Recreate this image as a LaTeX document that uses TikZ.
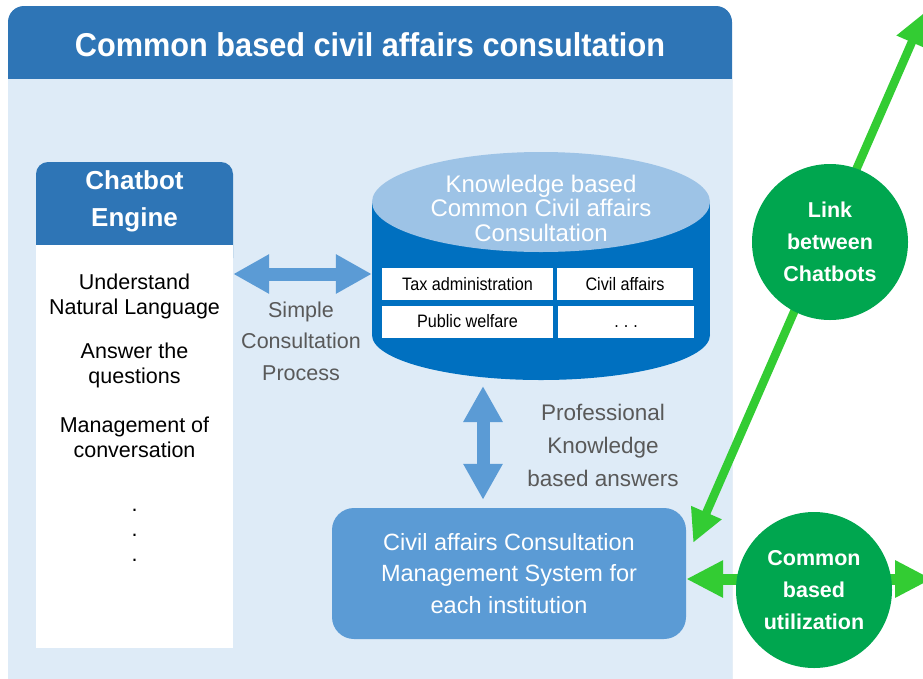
\documentclass[tikz,border=0pt]{standalone}
\usepackage{fontspec}
\setmainfont{Liberation Sans}
\newfontfamily\narrowfont[FakeStretch=0.9]{Liberation Sans}
\newfontfamily\titlefont[FakeStretch=0.93]{Liberation Sans}
\usetikzlibrary{arrows.meta,shapes.geometric}
\definecolor{hdrblue}{HTML}{2E75B6}
\definecolor{panelblue}{HTML}{DEEBF7}
\definecolor{kbbody}{HTML}{0070C0}
\definecolor{kbtop}{HTML}{9DC3E6}
\definecolor{arrowblue}{HTML}{5B9BD5}
\definecolor{hubgreen}{HTML}{00A64F}
\definecolor{linkgreen}{HTML}{33CC33}
\definecolor{labelgray}{HTML}{595959}
\begin{document}
\begin{tikzpicture}[x=1pt, y=-1pt,
	enginebox/.style={fill=white, minimum width=197pt, minimum height=403pt, inner sep=0pt},
	headtext/.style={text=white, align=center, inner sep=0pt,
		font=\bfseries\fontsize{26}{37}\selectfont},
	bodytext/.style={align=center, inner sep=0pt, font=\fontsize{21.5}{25}\selectfont},
	kbtext/.style={text=white, align=center, inner sep=0pt, font=\fontsize{24}{24.5}\selectfont},
	cell/.style={fill=white, minimum height=32pt, inner sep=0pt,
		font=\narrowfont\fontsize{18}{20}\selectfont},
	graytext/.style={text=labelgray, align=center, inner sep=0pt},
	cmsbox/.style={fill=arrowblue, rounded corners=22pt, text=white, align=center,
		minimum width=354pt, minimum height=131pt, inner sep=0pt,
		font=\fontsize{23.5}{31.5}\selectfont},
	hub/.style={circle, fill=hubgreen, text=white, align=center, minimum size=156pt,
		inner sep=0pt, font=\bfseries\fontsize{21.5}{32}\selectfont},
	bluearrow/.style={draw=arrowblue, line width=13pt,
		{Triangle[width=37pt,length=36pt]}-{Triangle[width=37pt,length=36pt]}},
	greenarrow/.style={draw=linkgreen, line width=8.5pt,
		{Triangle[width=31pt,length=33pt]}-{Triangle[width=31pt,length=33pt]}},
	greenwide/.style={draw=linkgreen, line width=11pt,
		{Triangle[width=35pt,length=37pt]}-{Triangle[width=35pt,length=37pt]}}
]
\useasboundingbox (0,0) rectangle (923,678);

% outer panel
\fill[hdrblue, rounded corners=16pt] (8,6) rectangle (732,700);
\fill[panelblue] (8,79) rectangle (732,700);
\node[text=white, inner sep=0pt, font=\titlefont\bfseries\fontsize{33}{36}\selectfont]
	(title) at (370,45) {Common based civil affairs consultation};

% chatbot engine
\fill[hdrblue, rounded corners=12pt] (36,162) rectangle (233,270);
\node[enginebox] (engine) at (134.5,446.5) {};
\node[headtext] (enginehead) at (134.5,201) {Chatbot\\Engine};
\node[bodytext] (understand) at (134.5,296) {Understand\\Natural Language};
\node[bodytext] (answer)     at (134.5,365) {Answer the\\questions};
\node[bodytext] (manage)     at (134.5,437) {Management of\\conversation};
\node[bodytext] (more)       at (134.5,535) {.\\.\\.};

% knowledge base cylinder
\fill[kbbody] (372,202) rectangle (710,335);
\fill[kbbody] (541,335) ellipse [x radius=169, y radius=45];
\fill[kbtop] (541,202) ellipse [x radius=169, y radius=50];
\node[inner sep=0pt, minimum width=338pt, minimum height=228pt] (kb) at (541,266) {};
\node[kbtext] (kbtitle) at (541,208) {Knowledge based\\Common Civil affairs\\Consultation};
\node[cell, minimum width=171pt] (tax)     at (467.5,284)   {Tax administration};
\node[cell, minimum width=136pt] (civil)   at (625,284)     {Civil affairs};
\node[cell, minimum width=171pt] (welfare) at (467.5,321.5) {Public welfare};
\node[cell, minimum width=136pt] (etc)     at (626,321.5)   {\vphantom{Pb}.\hspace{5pt}.\hspace{5pt}.};

% management system
\node[cmsbox] (cms) at (509,573.5) {Civil affairs Consultation\\Management System for\\each institution};

% labels
\node[graytext, font=\fontsize{21.5}{31.5}\selectfont] (simple) at (301,341)
	{Simple\\Consultation\\Process};
\node[graytext, font=\fontsize{22.5}{33}\selectfont] (prof) at (603,445)
	{Professional\\Knowledge\\based answers};

% connectors
\coordinate (row) at (300,274);
\coordinate (col) at (483,386);
\coordinate (farup) at (925,12);
\coordinate (farright) at (932,579);

\draw[bluearrow] (engine.east |- row) -- (kb.west |- row);
\draw[bluearrow, shorten >=8pt] (col) -- (cms.north -| col);
\draw[greenarrow] ([xshift=7pt,yshift=-35pt]cms.north east) -- (farup);
\draw[greenwide] ([yshift=-5.5pt]cms.east) -- (farright);

% hubs
\node[hub] (link)   at (830,242) {Link\\between\\Chatbots};
\node[hub] (common) at (814,590) {Common\\based\\utilization};

\end{tikzpicture}
\end{document}
